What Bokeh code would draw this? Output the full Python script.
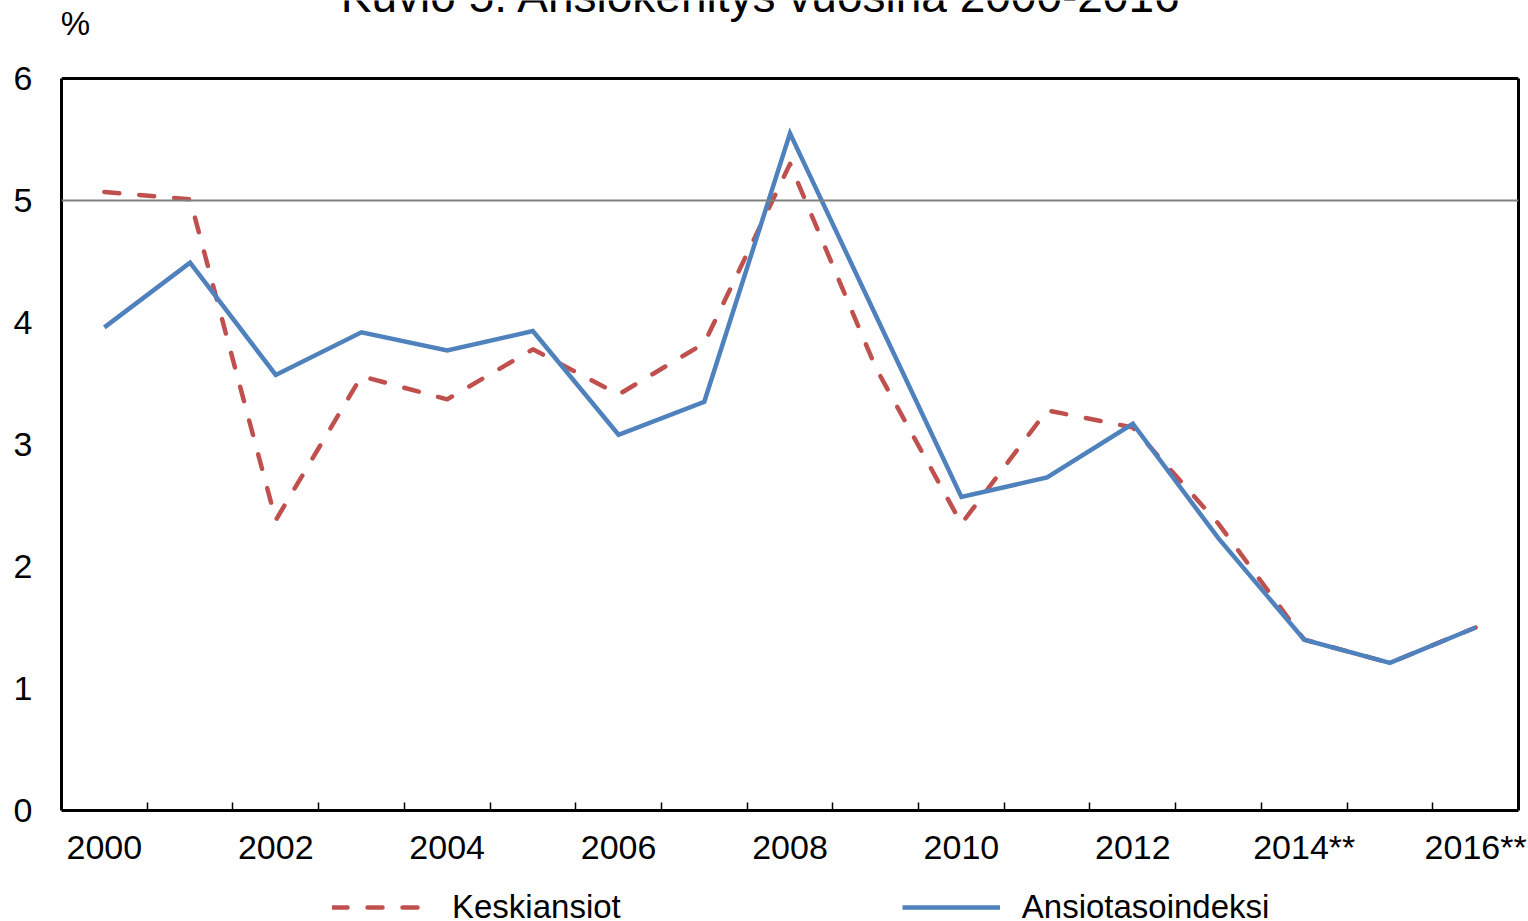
from bokeh.plotting import figure
from bokeh.layouts import column
from bokeh.models import (Range1d, FixedTicker, LinearAxis, Span, Label, Legend, LegendItem)
from bokeh.embed import file_html
from bokeh.resources import INLINE

# ---- data ----
years = ["2000", "2001", "2002", "2003", "2004", "2005", "2006", "2007", "2008",
         "2009", "2010", "2011", "2012", "2013", "2014**", "2015**", "2016**"]
keskiansiot = [5.07, 5.01, 2.38, 3.56, 3.37, 3.78, 3.41, 3.83, 5.30,
               3.63, 2.35, 3.28, 3.14, 2.35, 1.40, 1.21, 1.50]
ansiotasoindeksi = [3.96, 4.49, 3.57, 3.92, 3.77, 3.93, 3.08, 3.35, 5.55,
                    4.06, 2.57, 2.73, 3.17, 2.23, 1.40, 1.21, 1.50]
y_ticks = [0, 1, 2, 3, 4, 5, 6]
y_max = 6
series_names = ["Keskiansiot", "Ansiotasoindeksi"]
title_text = "Kuvio 5. Ansiokehitys vuosina 2000-2016"
unit_text = "%"

FONT = "Liberation Sans"
RED = "#C0504D"
BLUE = "#4F81BD"

W, H_MAIN, H_LEG = 1528, 880, 41
LEFT, RIGHT_EDGE, BOTTOM_EDGE, TOP_EDGE = 61, 1518, 810, 78
unit_px = (BOTTOM_EDGE - TOP_EDGE) / y_max
y_top = BOTTOM_EDGE / unit_px  # frame reaches to the top of the canvas

x = list(range(len(years)))

p = figure(width=W, height=H_MAIN, output_backend="svg", toolbar_location=None,
           x_range=Range1d(-0.5, len(years) - 0.5), y_range=Range1d(0, y_top),
           min_border_left=LEFT, min_border_right=W - RIGHT_EDGE, min_border_top=0,
           min_border_bottom=H_MAIN - BOTTOM_EDGE, x_axis_type=None, y_axis_type=None)
p.background_fill_color = "white"
p.border_fill_color = "white"
p.outline_line_color = None

# x axis
major = list(range(0, len(years), 2))
xaxis = LinearAxis(ticker=FixedTicker(ticks=major,
                                      minor_ticks=[i + 0.5 for i in range(len(years) - 1)]))
xaxis.major_label_overrides = {i: years[i] for i in major}
xaxis.major_tick_line_color = None
xaxis.minor_tick_in = 8
xaxis.minor_tick_out = 0
xaxis.minor_tick_line_color = "black"
xaxis.minor_tick_line_width = 1.5
xaxis.axis_line_color = "black"
xaxis.axis_line_width = 3
xaxis.major_label_text_font = FONT
xaxis.major_label_text_font_size = "34px"
xaxis.major_label_text_color = "black"
xaxis.major_label_standoff = 11
p.add_layout(xaxis, "below")

# y axis
yaxis = LinearAxis(ticker=FixedTicker(ticks=y_ticks), bounds=(0, y_max))
yaxis.major_tick_line_color = None
yaxis.minor_tick_line_color = None
yaxis.axis_line_color = "black"
yaxis.axis_line_width = 3
yaxis.major_tick_out = 0
yaxis.major_tick_in = 0
yaxis.major_label_text_font = FONT
yaxis.major_label_text_font_size = "34px"
yaxis.major_label_text_color = "black"
yaxis.major_label_standoff = 29
p.add_layout(yaxis, "left")

# right border of the box
raxis = LinearAxis(ticker=FixedTicker(ticks=[]), bounds=(0, y_max))
raxis.major_tick_line_color = None
raxis.minor_tick_line_color = None
raxis.major_label_text_font_size = "0px"
raxis.axis_line_color = "black"
raxis.axis_line_width = 3
p.add_layout(raxis, "right")

# grid lines and top border
p.xgrid.visible = False
p.ygrid.ticker = FixedTicker(ticks=[1, 2, 3, 4])
p.ygrid.grid_line_color = "black"
p.ygrid.grid_line_width = 1.2
p.add_layout(Span(location=5, dimension="width", line_color="#808080", line_width=2))
p.add_layout(Span(location=y_max, dimension="width", line_color="black", line_width=3))

red_style = dict(line_color=RED, line_width=4.5, line_dash="15 20", line_cap="round",
                 line_join="round")
blue_style = dict(line_color=BLUE, line_width=4.5, line_join="miter")

p.line(x, keskiansiot, **red_style)
p.line(x, ansiotasoindeksi, **blue_style)

# helpers: page pixel -> data
def px_to_x(px):
    return -0.5 + (px - LEFT) / ((RIGHT_EDGE - LEFT) / len(years))

def py_to_y(py):
    return (BOTTOM_EDGE - py) / unit_px

p.add_layout(Label(x=px_to_x(761), y=py_to_y(-5), text=title_text,
                   text_font=FONT, text_font_size="46px", text_color="black",
                   text_align="center", text_baseline="alphabetic"))
p.add_layout(Label(x=px_to_x(75), y=py_to_y(23), text=unit_text,
                   text_font=FONT, text_font_size="33px", text_color="black",
                   text_align="center", text_baseline="alphabetic"))

# ---- legend strip below the chart (series drawn outside its visible range) ----
q = figure(width=W, height=H_LEG, output_backend="svg", toolbar_location=None,
           x_range=Range1d(-100, -99), y_range=Range1d(-100, -99),
           min_border_left=0, min_border_right=0, min_border_top=0, min_border_bottom=0,
           x_axis_type=None, y_axis_type=None)
q.outline_line_color = None
q.xgrid.visible = False
q.ygrid.visible = False
q.background_fill_color = "white"
q.border_fill_color = "white"
lr1 = q.line(x, keskiansiot, **red_style)
lr2 = q.line(x, ansiotasoindeksi, **blue_style)
legend = Legend(items=[LegendItem(label=series_names[0], renderers=[lr1]),
                       LegendItem(label=series_names[1], renderers=[lr2])],
                orientation="horizontal", location=(271, -5),
                glyph_width=98, glyph_height=28, label_height=28,
                label_standoff=22, spacing=281, padding=0, margin=0,
                border_line_color=None, background_fill_alpha=0)
legend.label_text_font = FONT
legend.label_text_font_size = "33px"
legend.label_text_color = "black"
q.add_layout(legend, "center")

layout = column(p, q, spacing=0)
open("out.html", "w").write(file_html(layout, INLINE))
